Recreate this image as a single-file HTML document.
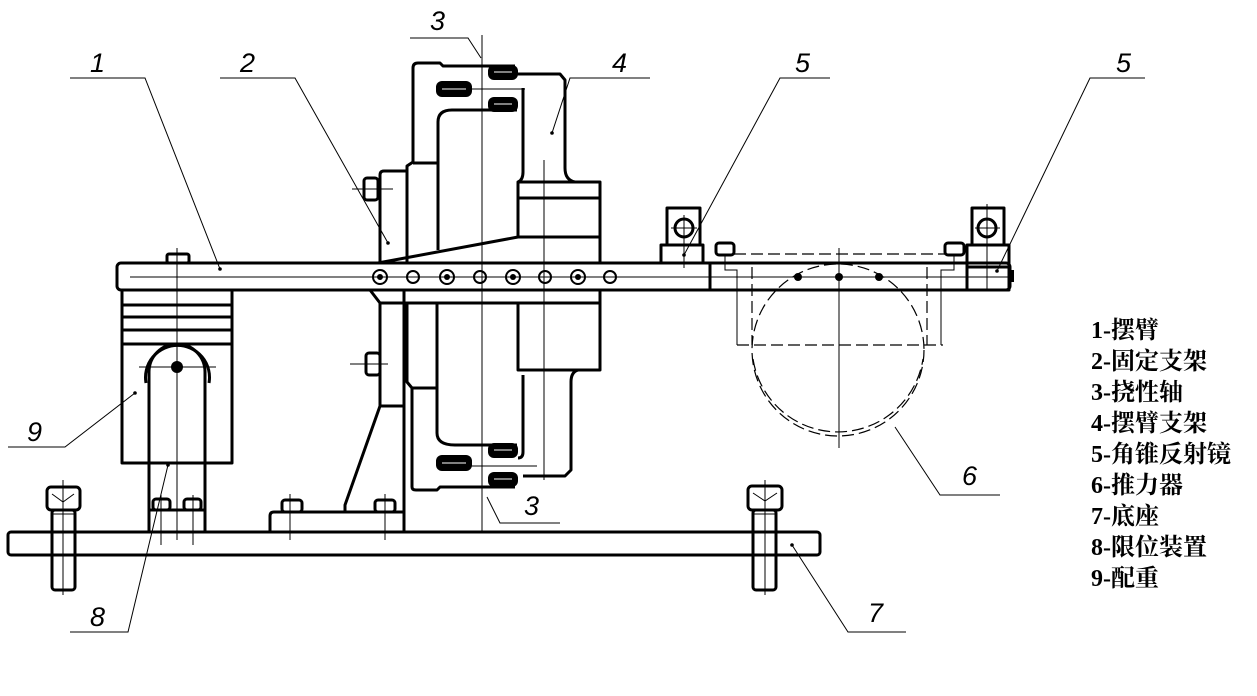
<!DOCTYPE html>
<html><head><meta charset="utf-8"><style>
html,body{margin:0;padding:0;background:#fff;width:1257px;height:696px;overflow:hidden}
svg{display:block}
.b{fill:none;stroke:#000;stroke-width:3;stroke-linejoin:round}
.t{fill:none;stroke:#000;stroke-width:1}
.d{fill:none;stroke:#000;stroke-width:1.2;stroke-dasharray:12 5}
.lb{font-family:"Liberation Sans",sans-serif;font-style:italic;font-size:27px;font-weight:normal;fill:#000}
.lg{font-family:"Liberation Serif","Noto Serif CJK SC",serif;font-size:24px;font-weight:bold;fill:#000}
</style></head><body>
<svg width="1257" height="696" viewBox="0 0 1257 696">
<rect class="b" x="8" y="532" width="812" height="23" rx="3"/>
<rect class="b" x="47" y="487" width="33" height="23" rx="4"/>
<rect class="b" x="52" y="510" width="23" height="80" rx="3"/>
<line class="t" x1="52" y1="514" x2="75" y2="514"/>
<line class="t" x1="63" y1="480" x2="63" y2="595"/>
<path class="t" d="M52 494 L63 502 L74 494"/>
<rect class="b" x="748" y="486" width="34" height="24" rx="4"/>
<rect class="b" x="753" y="510" width="23" height="80" rx="3"/>
<line class="t" x1="753" y1="514" x2="776" y2="514"/>
<line class="t" x1="765" y1="480" x2="765" y2="595"/>
<path class="t" d="M753 493 L765 501 L777 493"/>

<rect class="b" x="122" y="290" width="110" height="173"/>
<line class="b" x1="122" y1="305" x2="232" y2="305"/>
<line class="b" x1="122" y1="317" x2="232" y2="317"/>
<line class="b" x1="122" y1="330" x2="232" y2="330"/>
<line class="b" x1="122" y1="344" x2="232" y2="344"/>
<path d="M144 383 A33 33 0 1 1 210 383 L210 460 L144 460 Z" fill="#fff" stroke="none"/>
<path class="b" d="M146 383 A32 32 0 1 1 209 383"/>
<path class="b" d="M149 532 L149 372 A28 28 0 0 1 205 372 L205 532"/>
<line class="b" x1="149" y1="510" x2="205" y2="510"/>
<circle cx="177" cy="367" r="6" fill="#000"/>
<line class="t" x1="139" y1="367" x2="216" y2="367"/>
<line class="t" x1="177" y1="248" x2="177" y2="540"/>
<rect class="b" x="153" y="499" width="17" height="11" rx="3"/>
<rect class="b" x="184" y="499" width="17" height="11" rx="3"/>
<line class="t" x1="161" y1="495" x2="161" y2="545"/>
<line class="t" x1="193" y1="495" x2="193" y2="545"/>
<rect class="b" x="167" y="254" width="22" height="9" rx="2"/>

<rect class="b" x="117" y="263" width="893" height="27" rx="4"/>
<line class="b" x1="710" y1="263" x2="710" y2="290"/>
<line class="t" x1="130" y1="277" x2="1010" y2="277"/>
<g class="b" style="stroke-width:2">
<circle cx="380" cy="277" r="7"/><circle cx="447" cy="277" r="7"/><circle cx="513" cy="277" r="7"/><circle cx="578" cy="277" r="7"/>
<circle cx="413" cy="277" r="6"/><circle cx="480" cy="277" r="6"/><circle cx="545" cy="277" r="6"/><circle cx="610" cy="277" r="6"/>
</g>
<g fill="#000"><circle cx="380" cy="277" r="3"/><circle cx="447" cy="277" r="3"/><circle cx="513" cy="277" r="3"/><circle cx="578" cy="277" r="3"/>
<circle cx="798" cy="277" r="4"/><circle cx="839" cy="277" r="4"/><circle cx="879" cy="277" r="4"/></g>

<path class="b" d="M380 263 L380 175 Q380 171 384 171 L407 171 L407 263"/>
<path class="b" d="M407 171 L407 166 L413 162 L413 68 Q413 63 418 63 L440 63 L443 66 L515 66"/>
<line class="b" x1="413" y1="163" x2="438" y2="163"/>
<path class="b" d="M438 250 L438 122 Q438 110 452 110 L517 110"/>
<path class="b" d="M378 263 L518 237"/>
<rect class="b" x="518" y="182" width="82" height="55"/>
<line class="b" x1="518" y1="198" x2="600" y2="198"/>
<line class="b" x1="600" y1="237" x2="600" y2="263"/>
<path class="b" d="M515 74 Q519 74 523 74 L560 74 L565 80 L565 168 Q565 180 575 182"/>
<path class="b" d="M523 88 L523 172 Q523 180 518 182"/>
<rect class="b" x="364" y="178" width="14" height="22" rx="3"/>
<line class="t" x1="352" y1="189" x2="393" y2="189"/>
<rect x="488" y="65" width="30" height="15" rx="6" fill="#000"/>
<rect x="436" y="81" width="36" height="16" rx="6" fill="#000"/>
<rect x="488" y="97" width="30" height="15" rx="6" fill="#000"/>
<line class="t" x1="470" y1="89" x2="525" y2="89"/>
<g class="t" style="stroke:#fff"><line x1="494" y1="72" x2="512" y2="72"/><line x1="442" y1="89" x2="466" y2="89"/><line x1="494" y1="104" x2="512" y2="104"/></g>

<path class="b" d="M370 290 L380 303 L600 303 L600 290"/>
<path class="b" d="M380 303 L380 406 L404 406"/>
<line class="b" x1="404" y1="290" x2="404" y2="532"/>
<path class="b" d="M380 406 L345 505 L345 512"/>
<path class="b" d="M404 512 L274 512 Q270 512 270 516 L270 532"/>
<path class="b" d="M407 303 L407 382 L412 388 L437 388"/>
<path class="b" d="M412 388 L412 487 Q412 490 416 490 L437 490 L440 487 L515 487"/>
<path class="b" d="M437 303 L437 433 Q437 445 455 445 L517 445"/>
<rect class="b" x="518" y="303" width="82" height="67"/>
<path class="b" d="M600 370 L578 370 Q571 372 571 382 L571 470 L565 476 L523 476"/>
<path class="b" d="M523 375 L523 452 Q523 458 518 458"/>
<rect x="488" y="443" width="30" height="15" rx="6" fill="#000"/>
<rect x="436" y="455" width="36" height="16" rx="6" fill="#000"/>
<rect x="488" y="472" width="30" height="15" rx="6" fill="#000"/>
<g class="t" style="stroke:#fff"><line x1="494" y1="450" x2="512" y2="450"/><line x1="442" y1="463" x2="466" y2="463"/><line x1="494" y1="479" x2="512" y2="479"/></g>
<line class="t" x1="470" y1="466" x2="537" y2="466"/>
<rect class="b" x="366" y="353" width="14" height="22" rx="3"/>
<line class="t" x1="350" y1="364" x2="388" y2="364"/>
<rect class="b" x="282" y="500" width="20" height="12" rx="3"/>
<rect class="b" x="375" y="500" width="20" height="12" rx="3"/>
<line class="t" x1="290" y1="494" x2="290" y2="540"/>
<line class="t" x1="385" y1="494" x2="385" y2="540"/>
<line class="t" x1="482" y1="35" x2="482" y2="532"/>
<line class="t" x1="544" y1="160" x2="544" y2="480"/>

<rect class="b" x="667" y="208" width="33" height="37"/>
<rect class="b" x="661" y="245" width="42" height="18"/>
<circle class="b" cx="684" cy="228" r="9"/>
<line class="t" x1="671" y1="228" x2="697" y2="228"/><line class="t" x1="684" y1="215" x2="684" y2="268"/>
<rect class="b" x="972" y="208" width="32" height="37"/>
<rect class="b" x="967" y="245" width="42" height="45"/>
<line class="b" x1="967" y1="267" x2="1009" y2="267"/>
<rect x="1009" y="270" width="5" height="12" fill="#000"/>
<circle class="b" cx="987" cy="228" r="9"/>
<line class="t" x1="975" y1="228" x2="1000" y2="228"/><line class="t" x1="987" y1="204" x2="987" y2="290"/>
<rect class="b" x="716" y="243" width="18" height="12" rx="3"/>
<rect class="b" x="945" y="243" width="19" height="12" rx="3"/>
<line class="d" x1="734" y1="254" x2="945" y2="254"/>
<path class="t" d="M725 255 L725 270 L737 270 L737 345"/>
<path class="t" d="M954 255 L954 270 L941 270 L941 345"/>
<line class="d" x1="752" y1="267" x2="752" y2="345"/>
<line class="d" x1="927" y1="267" x2="927" y2="345"/>
<line class="d" x1="737" y1="345" x2="943" y2="345"/>
<circle class="d" cx="838" cy="350" r="86"/>
<path class="d" d="M753 355 A86 86 0 0 0 923 355" transform="translate(0,4)"/>
<line class="t" x1="839" y1="248" x2="839" y2="448"/>

<g class="t">
<polyline points="70,78 145,78 220,269"/>
<polyline points="220,78 295,78 388,243"/>
<polyline points="410,38 468,38 481,58"/>
<polyline points="650,78 570,78 552,133"/>
<polyline points="830,78 780,78 684,255"/>
<polyline points="1145,78 1090,78 997,271"/>
<polyline points="1000,495 940,495 895,427"/>
<polyline points="906,632 848,632 792,545"/>
<polyline points="70,632 128,632 168,465"/>
<polyline points="8,447 65,447 135,393"/>
<polyline points="560,523 500,523 487,497"/>
</g>
<g fill="#000"><circle cx="220" cy="269" r="1.8"/><circle cx="388" cy="243" r="1.8"/><circle cx="552" cy="133" r="1.8"/><circle cx="684" cy="255" r="1.8"/><circle cx="997" cy="271" r="1.8"/><circle cx="792" cy="545" r="1.8"/><circle cx="168" cy="465" r="1.8"/><circle cx="135" cy="393" r="1.8"/></g>
<g class="lb">
<text x="90" y="72">1</text><text x="240" y="72">2</text><text x="430" y="30">3</text>
<text x="612" y="72">4</text><text x="795" y="72">5</text><text x="1116" y="72">5</text>
<text x="962" y="485">6</text><text x="868" y="622">7</text><text x="90" y="626">8</text>
<text x="27" y="441">9</text><text x="524" y="515">3</text>
</g>
<g class="lg">
<text x="1091" y="338">1-摆臂</text>
<text x="1091" y="369">2-固定支架</text>
<text x="1091" y="400">3-挠性轴</text>
<text x="1091" y="431">4-摆臂支架</text>
<text x="1091" y="462">5-角锥反射镜</text>
<text x="1091" y="493">6-推力器</text>
<text x="1091" y="524">7-底座</text>
<text x="1091" y="555">8-限位装置</text>
<text x="1091" y="586">9-配重</text>
</g>
</svg>
</body></html>
